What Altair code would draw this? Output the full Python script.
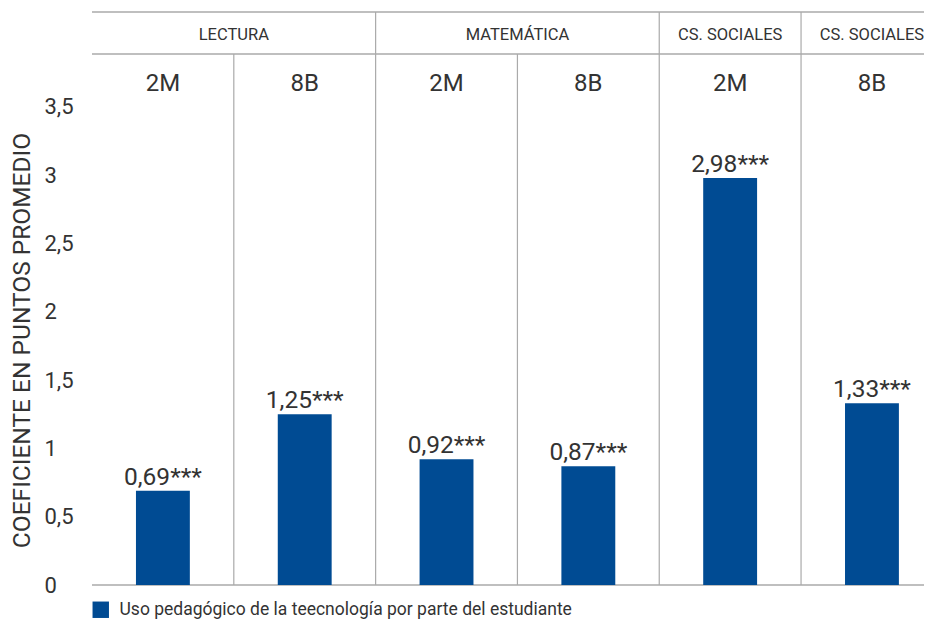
import altair as alt
import pandas as pd

# ---- data ----
groups = ["LECTURA", "LECTURA", "MATEMÁTICA", "MATEMÁTICA", "CS. SOCIALES", "CS. SOCIALES"]
levels = ["2M", "8B", "2M", "8B", "2M", "8B"]
values = [0.69, 1.25, 0.92, 0.87, 2.98, 1.33]
value_labels = ["0,69***", "1,25***", "0,92***", "0,87***", "2,98***", "1,33***"]
header_names = ["LECTURA", "MATEMÁTICA", "CS. SOCIALES", "CS. SOCIALES"]
header_start = [0, 2, 4, 5]
header_end = [2, 4, 5, 6]
series_name = "Uso pedagógico de la teecnología por parte del estudiante"
y_ticks = [0, 0.5, 1, 1.5, 2, 2.5, 3, 3.5]

FONT = "Roboto"
BLUE = "#004b93"
GRAY = "#aaaaaa"
TXT = "#333333"
Y_TOP = 4.195      # top border of the header block
Y_ROW = 3.887      # line between group headers and level headers
Y_G = 4.03         # group header text
Y_L = 3.667        # level header text
X_MAX = 5.867

bars = pd.DataFrame({
    "i": list(range(6)),
    "group": groups,
    "level": levels,
    "value": values,
    "label": value_labels,
    "serie": [series_name] * 6,
})
bars["xc"] = bars["i"] + 0.5
bars["x0"] = bars["i"] + 0.5 - 0.19
bars["x1"] = bars["i"] + 0.5 + 0.19
bars["base"] = 0.0
bars["yl"] = Y_L

heads = pd.DataFrame({"name": header_names, "s": header_start, "e": header_end})
heads["xc"] = (heads["s"] + heads["e"]) / 2
heads["yg"] = Y_G

xs = alt.Scale(domain=[0, X_MAX], nice=False, zero=False)
ys = alt.Scale(domain=[0, Y_TOP], nice=False, zero=True)

base = alt.Chart(bars)

bar = base.mark_bar(color=BLUE).encode(
    x=alt.X("x0:Q", scale=xs, axis=None),
    x2="x1:Q",
    y=alt.Y("value:Q", scale=ys,
            axis=alt.Axis(values=y_ticks, grid=False, domain=False, ticks=False,
                          labelExpr="replace(format(datum.value, '~g'), '.', ',')",
                          labelFontSize=22, labelColor=TXT, labelFont=FONT,
                          labelAlign="left", labelPadding=48,
                          title="COEFICIENTE EN PUNTOS PROMEDIO",
                          titleFontSize=24.5, titleFontWeight="normal", titleColor=TXT,
                          titleFont=FONT, titleX=-82, titleY=328,
                          titleBaseline="top", titleAngle=270)),
    y2="base:Q",
    color=alt.Color("serie:N", scale=alt.Scale(range=[BLUE]),
                    legend=alt.Legend(title=None, orient="none", legendX=0, legendY=589,
                                      symbolType="square", symbolSize=270,
                                      symbolStrokeWidth=0, padding=0, labelOffset=10,
                                      labelFontSize=17.5, labelColor=TXT, labelFont=FONT,
                                      labelLimit=700)),
)

vlabels = base.mark_text(fontSize=24.5, color=TXT, font=FONT, baseline="bottom", dy=-1).encode(
    x=alt.X("xc:Q", scale=xs, axis=None),
    y=alt.Y("value:Q", scale=ys),
    text="label:N",
)

level_text = base.mark_text(fontSize=24, color=TXT, font=FONT, baseline="middle").encode(
    x=alt.X("xc:Q", scale=xs, axis=None),
    y=alt.Y("yl:Q", scale=ys),
    text="level:N",
)

group_text = alt.Chart(heads).mark_text(fontSize=16.5, color=TXT, font=FONT, baseline="middle").encode(
    x=alt.X("xc:Q", scale=xs, axis=None),
    y=alt.Y("yg:Q", scale=ys),
    text="name:N",
)

seps = pd.DataFrame({"x": [2, 4, 5, 1, 3], "y0": [0] * 5,
                     "y1": [Y_TOP, Y_TOP, Y_TOP, Y_ROW, Y_ROW]})
vrules = alt.Chart(seps).mark_rule(color=GRAY, strokeWidth=1.2).encode(
    x=alt.X("x:Q", scale=xs, axis=None),
    y=alt.Y("y0:Q", scale=ys),
    y2="y1:Q",
)

hl = pd.DataFrame({"y": [0, Y_ROW, Y_TOP], "x0": [0, 0, 0], "x1": [X_MAX] * 3})
hrules = alt.Chart(hl).mark_rule(color=GRAY, strokeWidth=1.5).encode(
    y=alt.Y("y:Q", scale=ys),
    x=alt.X("x0:Q", scale=xs, axis=None),
    x2="x1:Q",
)

chart = alt.layer(vrules, hrules, bar, vlabels, level_text, group_text).properties(
    width=832, height=573,
    autosize=alt.AutoSizeParams(type="none"),
    padding={"left": 84, "top": 4, "right": 0, "bottom": 34},
).configure_view(stroke=None)

chart.save("out.html", embed_options={"renderer": "svg", "actions": False})
